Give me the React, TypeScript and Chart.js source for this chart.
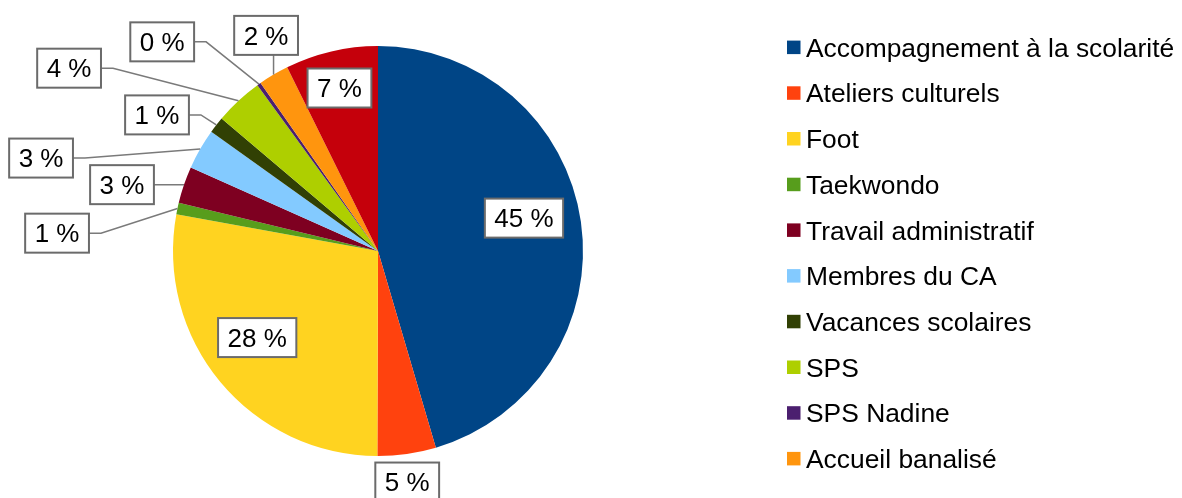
import React, { useEffect, useRef } from "react";
import { Chart, registerables } from "chart.js";

Chart.register(...registerables);

// ---- data ----
const categories = [
  "Accompagnement à la scolarité",
  "Ateliers culturels",
  "Foot",
  "Taekwondo",
  "Travail administratif",
  "Membres du CA",
  "Vacances scolaires",
  "SPS",
  "SPS Nadine",
  "Accueil banalisé",
  "Autres",
];
const shares = [45.4, 4.6, 27.8, 0.9, 2.9, 3.2, 1.3, 3.8, 0.3, 2.4, 7.3];
const colors = [
  "#004586",
  "#ff420e",
  "#ffd320",
  "#579d1c",
  "#7e0021",
  "#83caff",
  "#314004",
  "#aecf00",
  "#4b1f6f",
  "#ff950e",
  "#c5000b",
];
// the legend of the reference lists only the first ten categories
const legendCount = 10;

// ---- label layout (angle offset from slice middle in degrees, radius factor) ----
const labelPlacement = [
  { da: -4.5, rf: 0.73 },
  { da: 0.9, rf: 1.136 },
  { da: 4.1, rf: 0.725 },
  { da: -8.8, rf: 1.568 },
  { da: -4.3, rf: 1.29 },
  { da: -14.4, rf: 1.705 },
  { da: -6.3, rf: 1.266 },
  { da: -16.5, rf: 1.751 },
  { da: -10.4, rf: 1.466 },
  { da: 3.2, rf: 1.185 },
  { da: -0.15, rf: 0.817 },
];

const FONT = "'Liberation Sans', Arial, sans-serif";
const LABEL_SIZE = 26;
const LEGEND_SIZE = 26.4;

const overlayPlugin = {
  id: "overlay",
  afterDatasetsDraw(chart: any) {
    const ctx: CanvasRenderingContext2D = chart.ctx;
    const meta = chart.getDatasetMeta(0);
    const data = chart.data.datasets[0].data as number[];
    const total = data.reduce((a, b) => a + b, 0);
    ctx.save();
    ctx.font = `${LABEL_SIZE}px ${FONT}`;
    ctx.textBaseline = "alphabetic";
    ctx.textAlign = "left";
    meta.data.forEach((arc: any, i: number) => {
      const { x, y, startAngle, endAngle, outerRadius } = arc.getProps(
        ["x", "y", "startAngle", "endAngle", "outerRadius"],
        true
      );
      const mid = (startAngle + endAngle) / 2;
      const p = labelPlacement[i];
      const a = mid + (p.da * Math.PI) / 180;
      const cx = x + Math.cos(a) * outerRadius * p.rf;
      const cy = y + Math.sin(a) * outerRadius * p.rf;
      const text = `${Math.round((data[i] / total) * 100)} %`;
      const tw = ctx.measureText(text).width;
      const w = tw + 19;
      const h = 39;
      const l = cx - w / 2;
      const t = cy - h / 2;
      const r = l + w;
      const b = t + h;
      if (p.rf > 1) {
        const ex = x + Math.cos(mid) * outerRadius;
        const ey = y + Math.sin(mid) * outerRadius;
        ctx.strokeStyle = "#7a7a7a";
        ctx.lineWidth = 1.5;
        ctx.beginPath();
        if (ex >= l && ex <= r) {
          const by = ey < t ? t : b;
          if (Math.abs(by - ey) > 12) {
            ctx.moveTo(ex, ey);
            ctx.lineTo(ex, by);
          }
        } else if (ex > r) {
          ctx.moveTo(ex, ey);
          ctx.lineTo(r + 12, cy);
          ctx.lineTo(r, cy);
        } else {
          ctx.moveTo(ex, ey);
          ctx.lineTo(l - 12, cy);
          ctx.lineTo(l, cy);
        }
        ctx.stroke();
      }
      ctx.fillStyle = "#ffffff";
      ctx.fillRect(l, t, w, h);
      ctx.strokeStyle = "#6b6b6b";
      ctx.lineWidth = 2;
      ctx.strokeRect(l, t, w, h);
      ctx.fillStyle = "#000000";
      ctx.fillText(text, cx - tw / 2, cy + (0.716 * LABEL_SIZE) / 2);
    });

    // legend
    ctx.font = `${LEGEND_SIZE}px ${FONT}`;
    const labels = chart.data.labels as string[];
    const bg = chart.data.datasets[0].backgroundColor as string[];
    for (let i = 0; i < Math.min(legendCount, labels.length); i++) {
      const yc = 47.3 + i * 45.7;
      ctx.fillStyle = bg[i];
      ctx.fillRect(787, yc - 6.7, 13.5, 13.5);
      ctx.fillStyle = "#000000";
      ctx.fillText(labels[i], 806, yc + (0.716 * LEGEND_SIZE) / 2);
    }
    ctx.restore();
  },
};

export default function App() {
  const ref = useRef<HTMLCanvasElement | null>(null);
  useEffect(() => {
    if (!ref.current) return;
    const chart = new Chart(ref.current, {
      type: "pie",
      data: {
        labels: categories,
        datasets: [
          {
            data: shares,
            backgroundColor: colors,
            borderWidth: 0,
            hoverOffset: 0,
            offset: 0,
          },
        ],
      },
      options: {
        responsive: false,
        animation: false,
        layout: { padding: { left: 173, right: 599, top: 46, bottom: 42 } },
        plugins: {
          legend: { display: false },
          tooltip: { enabled: false },
        },
      },
      plugins: [overlayPlugin],
    });
    return () => chart.destroy();
  }, []);
  return (
    <div style={{ position: "fixed", left: 0, top: 0, width: 1182, height: 498, background: "#fff" }}>
      <canvas ref={ref} width={1182} height={498} style={{ display: "block" }} />
    </div>
  );
}
